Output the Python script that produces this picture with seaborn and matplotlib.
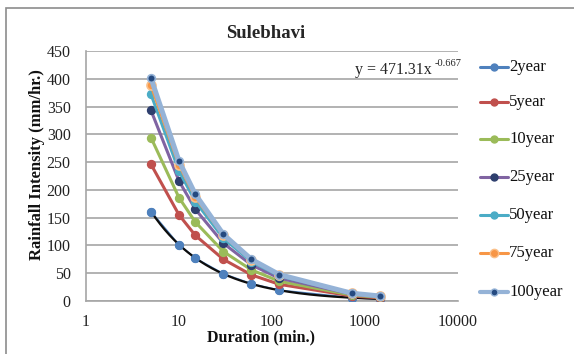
import numpy as np
import pandas as pd
import matplotlib
matplotlib.use("Agg")
import matplotlib.pyplot as plt
import seaborn as sns
from matplotlib.patches import Rectangle
from matplotlib.lines import Line2D

durations = [5, 10, 15, 30, 60, 120, 720, 1440]
y2 = [161, 101, 77, 49, 31, 19.5, 6, 3.7]
y5 = [246, 155, 118, 75, 47, 30, 9, 5.6]
y10 = [294, 186, 142, 89, 56, 35.5, 10.7, 6.8]
y25 = [343, 216, 165, 104, 65, 41, 12.5, 7.9]
y50 = [372, 234, 179, 113, 71, 45, 13.5, 8.5]
y75 = [388, 245, 187, 118, 74, 47, 14, 8.9]
y100 = [401, 252, 192, 120, 75, 47.5, 14, 9]
series_names = ["2year", "5year", "10year", "25year", "50year", "75year", "100year"]
series_vals = [y2, y5, y10, y25, y50, y75, y100]
trend_a = 471.31
trend_b = -0.667
title = "Sulebhavi"
xticks = [1, 10, 100, 1000, 10000]
yticks = [0, 50, 100, 150, 200, 250, 300, 350, 400, 450]

df = pd.DataFrame({
    "Duration": np.tile(durations, len(series_names)),
    "Intensity": np.concatenate(series_vals),
    "Series": np.repeat(series_names, len(durations)),
})

sns.set_theme(style="white")
plt.rcParams["font.family"] = ["Liberation Serif", "DejaVu Serif"]

W, H = 574, 354
fig = plt.figure(figsize=(W / 100, H / 100), dpi=100)
ax = fig.add_axes([86 / W, 1 - 301 / H, (458 - 86) / W, (301 - 51) / H])

line_colors = ["#4F81BD", "#C0504D", "#9BBB59", "#8064A2", "#4BACC6", "#F79646", "#95B3D7"]
marker_colors = ["#4F81BD", "#C0504D", "#9BBB59", "#2E3F6E", "#4BACC6", "#F79646", "#254A80"]
marker_edges = ["#4F81BD", "#C0504D", "#9BBB59", "#2E3F6E", "#4BACC6", "#FBC08A", "#95B3D7"]
lws = [1.2, 2.2, 2.2, 2.2, 2.2, 2.2, 3.6]
msz = [5.5, 5.5, 5.5, 5.5, 5.5, 6.5, 5.5]

for i, name in enumerate(series_names):
    sub = df[df["Series"] == name]
    sns.lineplot(data=sub, x="Duration", y="Intensity", ax=ax, color=line_colors[i],
                 lw=lws[i], marker="o", markersize=msz[i], markerfacecolor=marker_colors[i],
                 markeredgecolor=marker_edges[i], markeredgewidth=1.2,
                 legend=False, zorder=3 + i)

# power trendline of the 2year series (drawn above the 2year line, markers on top)
xs = np.logspace(np.log10(durations[0]), np.log10(durations[-1]), 200)
ax.plot(xs, trend_a * xs ** trend_b, color="#0D0D0D", lw=1.6, zorder=3.3)
ax.plot(durations, y2, ls="none", marker="o", markersize=5.5, color=line_colors[0], zorder=3.4)

ax.set_xscale("log")
ax.set_xlim(1, 10000)
ax.set_ylim(0, 450)
ax.set_xticks(xticks)
ax.set_xticklabels([str(t) for t in xticks])
ax.xaxis.set_minor_locator(matplotlib.ticker.NullLocator())
ax.set_yticks(yticks)
ax.set_yticklabels([str(t) for t in yticks])
ax.tick_params(axis="y", labelsize=11.5, colors="#222222", length=0, pad=11)
ax.tick_params(axis="x", labelsize=11.5, colors="#222222", length=0, pad=9)
ax.yaxis.grid(True, color="#A6A6A6", lw=1.2)
ax.xaxis.grid(False)
for s in ["top", "right"]:
    ax.spines[s].set_visible(False)
for s in ["left", "bottom"]:
    ax.spines[s].set_color("#A6A6A6")
    ax.spines[s].set_linewidth(1.2)

ax.set_xlabel("")
ax.set_ylabel("")
fig.text(261 / W, 1 - 337 / H, "Duration (min.)", ha="center", va="center",
         fontsize=11.5, fontweight="bold", color="#111111")
fig.text(37 / W, 1 - 165 / H, "Rainfall Intensity (mm/hr.)", ha="center", va="center",
         rotation=90, fontsize=12, fontweight="bold", color="#111111")
fig.text(266 / W, 1 - 33 / H, title, ha="center", va="center", fontsize=13.5, fontweight="bold")
fig.text(355 / W, 1 - 70 / H, "y = 471.31x", ha="left", va="center", fontsize=11.5)
fig.text(435 / W, 1 - 64 / H, "-0.667", ha="left", va="center", fontsize=7.5)

# legend (manual placement)
leg_y = [67, 102, 139, 177, 215, 253, 292]
for i, name in enumerate(series_names):
    yy = 1 - leg_y[i] / H
    fig.add_artist(Line2D([480 / W, 508 / W], [yy, yy], color=line_colors[i],
                          lw=2.2 if i < 6 else 3.0, transform=fig.transFigure))
    fig.add_artist(Line2D([494 / W], [yy], marker="o", markersize=msz[i] - 0.5, ls="none",
                          markerfacecolor=marker_colors[i], markeredgecolor=marker_edges[i],
                          transform=fig.transFigure))
    fig.text(509 / W, yy, name, ha="left", va="center", fontsize=12, color="#111111")

fig.patches.append(Rectangle((6 / W, -0.1), 1.2, 1 - 8 / H + 0.1, transform=fig.transFigure,
                             fill=False, edgecolor="#8C8C8C", lw=1.2))

fig.savefig("out.png", dpi=100)
